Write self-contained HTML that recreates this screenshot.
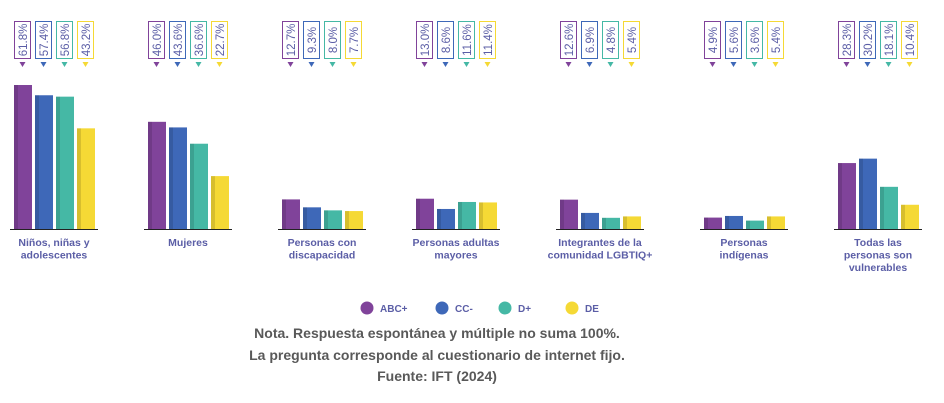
<!DOCTYPE html>
<html><head><meta charset="utf-8"><style>
body{margin:0;background:#fff;width:944px;height:403px;overflow:hidden}
svg{display:block}
</style></head><body>
<svg width="944" height="403" xmlns="http://www.w3.org/2000/svg" font-family="Liberation Sans, sans-serif">
<g id="c"></g>
<g font-size="11" font-weight="bold" fill="#595959"></g>
<text x="437" y="338" text-anchor="middle" font-size="14" font-weight="bold" fill="#595959">Nota. Respuesta espontánea y múltiple no suma 100%.</text>
<text x="437" y="360" text-anchor="middle" font-size="14" font-weight="bold" fill="#595959">La pregunta corresponde al cuestionario de internet fijo.</text>
<text x="437" y="381" text-anchor="middle" font-size="14" font-weight="bold" fill="#595959">Fuente: IFT (2024)</text>
<circle cx="367" cy="308" r="6.5" fill="#80439a"/><text x="380" y="312" font-size="10" font-weight="bold" fill="#5b5ea6">ABC+</text>
<circle cx="442" cy="308" r="6.5" fill="#3e68b8"/><text x="455" y="312" font-size="10" font-weight="bold" fill="#5b5ea6">CC-</text>
<circle cx="505" cy="308" r="6.5" fill="#45b8a5"/><text x="518" y="312" font-size="10" font-weight="bold" fill="#5b5ea6">D+</text>
<circle cx="572" cy="308" r="6.5" fill="#f5d935"/><text x="585" y="312" font-size="10" font-weight="bold" fill="#5b5ea6">DE</text>
</svg>
<script>
const cols=["#80439a","#3e68b8","#45b8a5","#f5d935"];
const data=[[14,[61.8,57.4,56.8,43.2],["Niños, niñas y","adolescentes"]],
[148,[46.0,43.6,36.6,22.7],["Mujeres"]],
[282,[12.7,9.3,8.0,7.7],["Personas con","discapacidad"]],
[416,[13.0,8.6,11.6,11.4],["Personas adultas","mayores"]],
[560,[12.6,6.9,4.8,5.4],["Integrantes de la","comunidad LGBTIQ+"]],
[704,[4.9,5.6,3.6,5.4],["Personas","indígenas"]],
[838,[28.3,30.2,18.1,10.4],["Todas las","personas son","vulnerables"]]];
let s="";
data.forEach(([x0,v,lab])=>{
 v.forEach((val,i)=>{
  const x=x0+i*21,h=val*2.33;
  s+=`<rect x="${x}" y="${229-h}" width="18" height="${h}" fill="${cols[i]}"/>`;
  s+=`<rect x="${x}" y="${229-h}" width="4" height="${h}" fill="#000" opacity="0.12"/>`;
  s+=`<rect x="${x+0.5}" y="21.5" width="16" height="37" fill="#fff" stroke="${cols[i]}" stroke-width="1"/>`;
  s+=`<text transform="translate(${x+13},40) rotate(-90)" text-anchor="middle" font-size="11.5" fill="#5b5ea6">${val.toFixed(1)}%</text>`;
  s+=`<path d="M${x+5.5} 62 L${x+11.5} 62 L${x+8.5} 67 Z" fill="${cols[i]}"/>`;
 });
 s+=`<line x1="${x0-4}" y1="229.5" x2="${x0+84}" y2="229.5" stroke="#222" stroke-width="1"/>`;
 lab.forEach((t,j)=>{s+=`<text x="${x0+40}" y="${246+j*12.5}" text-anchor="middle" font-size="10.5" font-weight="bold" fill="#5b5ea6">${t}</text>`;});
});
document.getElementById("c").innerHTML=s;
</script>
</body></html>
